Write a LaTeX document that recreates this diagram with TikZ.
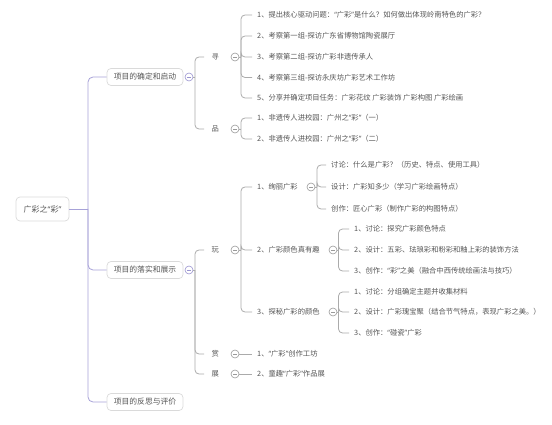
\documentclass[tikz,border=0pt]{standalone}
\usepackage{fontspec}
\setmainfont{Noto Sans CJK SC}
\newfontfamily\qfont{Noto Sans}
\newcommand\myqo{{\qfont “}}
\newcommand\myqc{{\qfont ”}}
\definecolor{textc}{HTML}{555555}
\definecolor{linec}{HTML}{ABABAB}
\definecolor{trunkc}{HTML}{A7A2D8}
\definecolor{boxc}{HTML}{DADADA}
\definecolor{circp}{HTML}{9A94D0}
\definecolor{circg}{HTML}{9A9A9A}
\begin{document}
\begin{tikzpicture}[x=1pt,y=-1pt,
  txt/.style={font=\fontsize{7.3}{8}\selectfont, text=textc, inner ysep=1pt, inner xsep=5pt, anchor=west},
  lvtwo/.style={txt, inner xsep=7.3pt},
  rootbox/.style={draw=boxc, line width=0.7pt, rounded corners=4pt, minimum width=53pt, minimum height=24pt, font=\fontsize{8}{9}\selectfont, text=textc, inner sep=0pt},
  onebox/.style={draw=boxc, line width=0.7pt, rounded corners=4pt, minimum width=76pt, minimum height=17pt, font=\fontsize{7.8}{9}\selectfont, text=textc, inner sep=0pt},
  trunk/.style={draw=trunkc, line width=0.8pt, rounded corners=5pt},
  branch/.style={draw=linec, line width=0.8pt, rounded corners=4pt},
  foldc/.style={circle, draw=#1, line width=0.6pt, fill=white, minimum size=8pt, inner sep=0pt,
    path picture={\draw[#1, line width=0.6pt] ([xshift=-2pt]path picture bounding box.center) -- ([xshift=2pt]path picture bounding box.center);}},
]
\useasboundingbox (0,0) rectangle (552,425);

% root
\node[rootbox] (root) at (42.5,209) {广彩之\myqo 彩\myqc};
\coordinate (jr) at (88,209);

% level 1
\node[onebox] (A) at (145,77) {项目的确定和启动};
\node[onebox] (B) at (145,270) {项目的落实和展示};
\node[onebox] (C) at (145,402) {项目的反思与评价};
\draw[trunk] (root.east) -- (jr);
\draw[trunk] (jr) |- (A.west);
\draw[trunk] (jr) |- (B.west);
\draw[trunk] (jr) |- (C.west);

\node[foldc=circp] (cA) at (189,77) {};
\node[foldc=circp] (cB) at (189,270) {};
\coordinate (jA) at (195,77);
\coordinate (jB) at (195,270);

% level 2
\node[lvtwo] (xun) at (204,57) {寻};
\node[lvtwo] (pin) at (204,129) {品};
\node[lvtwo] (wan) at (204,250) {玩};
\node[lvtwo] (shang) at (204,354) {赏};
\node[lvtwo] (zhan) at (204,374) {展};
\draw[branch] (cA) -- (jA);
\draw[branch] (cB) -- (jB);
\foreach \n in {xun,pin} \draw[branch] (jA) |- (\n.west);
\foreach \n in {wan,shang,zhan} \draw[branch] (jB) |- (\n.west);

\node[foldc=circg] (cxun) at (235,57) {};
\node[foldc=circg] (cpin) at (235,129) {};
\node[foldc=circg] (cwan) at (235,250) {};
\node[foldc=circg] (cshang) at (235,354) {};
\node[foldc=circg] (czhan) at (235,374) {};
\coordinate (jxun) at (241,57);
\coordinate (jpin) at (241,129);
\coordinate (jwan) at (241,250);
\coordinate (jshang) at (241,354);
\coordinate (jzhan) at (241,374);
\foreach \n in {xun,pin,wan,shang,zhan} \draw[branch] (c\n) -- (j\n);

% level 3 : xun
\node[txt] (x1) at (252,15) {1、提出核心驱动问题：\myqo 广彩\myqc 是什么？如何做出体现岭南特色的广彩？};
\node[txt] (x2) at (252,36) {2、考察第一组-探访广东省博物馆陶瓷展厅};
\node[txt] (x3) at (252,57) {3、考察第二组-探访广彩非遗传承人};
\node[txt] (x4) at (252,77.5) {4、考察第三组-探访永庆坊广彩艺术工作坊};
\node[txt] (x5) at (252,98) {5、分享并确定项目任务：广彩花纹 广彩装饰 广彩构图 广彩绘画};
\foreach \n in {x1,x2,x3,x4,x5} \draw[branch] (jxun) |- (\n.west);

% pin
\node[txt] (p1) at (252,118) {1、非遗传人进校园：广州之\myqo 彩\myqc（一）};
\node[txt] (p2) at (252,139) {2、非遗传人进校园：广州之\myqo 彩\myqc（二）};
\foreach \n in {p1,p2} \draw[branch] (jpin) |- (\n.west);

% wan
\node[txt] (w1) at (252,187) {1、绚丽广彩};
\node[txt] (w2) at (252,250) {2、广彩颜色真有趣};
\node[txt] (w3) at (252,312) {3、探秘广彩的颜色};
\foreach \n in {w1,w2,w3} \draw[branch] (jwan) |- (\n.west);

% shang, zhan
\node[txt] (s1) at (252,354) {1、\myqo 广彩\myqc 创作工坊};
\node[txt] (z1) at (252,374) {2、童趣\myqo 广彩\myqc 作品展};
\draw[branch] (jshang) -- (s1.west);
\draw[branch] (jzhan) -- (z1.west);

% level 4 : w1
\node[foldc=circg] (cw1) at (311,187) {};
\coordinate (jw1) at (317,187);
\draw[branch] (cw1) -- (jw1);
\node[txt] (w1a) at (326,165) {讨论：什么是广彩？（历史、特点、使用工具）};
\node[txt] (w1b) at (326,187) {设计：广彩知多少（学习广彩绘画特点）};
\node[txt] (w1c) at (326,209) {创作：匠心广彩（制作广彩的构图特点）};
\foreach \n in {w1a,w1b,w1c} \draw[branch] (jw1) |- (\n.west);

% w2
\node[foldc=circg] (cw2) at (333,250) {};
\coordinate (jw2) at (338.5,250);
\draw[branch] (cw2) -- (jw2);
\node[txt] (w2a) at (349,229) {1、讨论：探究广彩颜色特点};
\node[txt] (w2b) at (349,250) {2、设计：五彩、珐琅彩和粉彩和釉上彩的装饰方法};
\node[txt] (w2c) at (349,271) {3、创作：\myqo 彩\myqc 之美（融合中西传统绘画法与技巧）};
\foreach \n in {w2a,w2b,w2c} \draw[branch] (jw2) |- (\n.west);

% w3
\node[foldc=circg] (cw3) at (333,312) {};
\coordinate (jw3) at (338.5,312);
\draw[branch] (cw3) -- (jw3);
\node[txt] (w3a) at (349,292) {1、讨论：分组确定主题并收集材料};
\node[txt] (w3b) at (349,312) {2、设计：广彩瑰宝聚（结合节气特点，表现广彩之美。）};
\node[txt] (w3c) at (349,333) {3、创作：\myqo 碰瓷\myqc 广彩};
\foreach \n in {w3a,w3b,w3c} \draw[branch] (jw3) |- (\n.west);
\end{tikzpicture}
\end{document}
